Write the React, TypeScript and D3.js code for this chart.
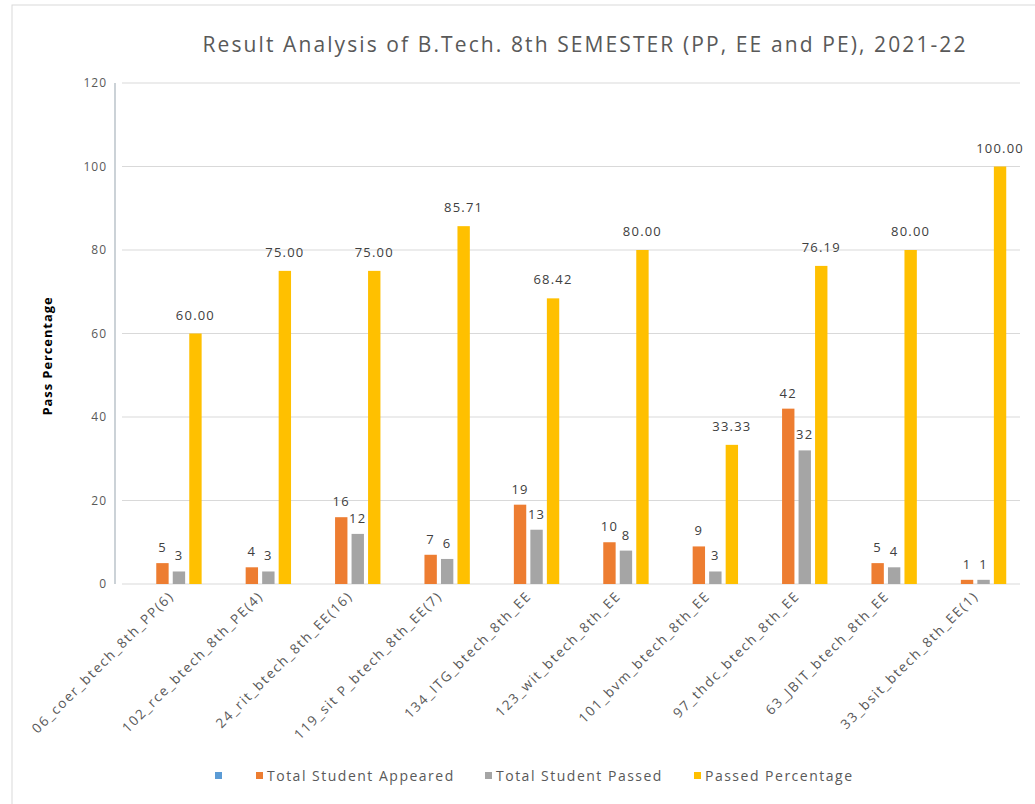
import React from "react";
import * as d3 from "d3";

const categories = [
  "06_coer_btech_8th_PP(6)",
  "102_rce_btech_8th_PE(4)",
  "24_rit_btech_8th_EE(16)",
  "119_sit P_btech_8th_EE(7)",
  "134_ITG_btech_8th_EE",
  "123_wit_btech_8th_EE",
  "101_bvm_btech_8th_EE",
  "97_thdc_btech_8th_EE",
  "63_JBIT_btech_8th_EE",
  "33_bsit_btech_8th_EE(1)",
];
const appeared = [5, 4, 16, 7, 19, 10, 9, 42, 5, 1];
const passed = [3, 3, 12, 6, 13, 8, 3, 32, 4, 1];
const percentage = [60.0, 75.0, 75.0, 85.71, 68.42, 80.0, 33.33, 76.19, 80.0, 100.0];
const yTicks = [0, 20, 40, 60, 80, 100, 120];
const seriesNames = ["", "Total Student Appeared", "Total Student Passed", "Passed Percentage"];
const seriesColors = ["#5B9BD5", "#ED7D31", "#A5A5A5", "#FFC000"];

const W = 1035;
const H = 804;
const font = "'Open Sans', 'Liberation Sans', sans-serif";
const textColor = "#595959";

export default function App() {
  const x = d3.scaleBand<string>().domain(categories).range([126, 1020]).paddingInner(0).paddingOuter(0);
  const y = d3.scaleLinear().domain([0, 120]).range([584, 83]);
  const inner = d3
    .scaleBand<string>()
    .domain(["s0", "s1", "s2", "s3"])
    .range([-33, 33])
    .paddingInner(0.25)
    .paddingOuter(0.125);

  const seriesData = [null, appeared, passed, percentage];

  return (
    <svg
      width={W}
      height={H}
      style={{ display: "block", fontFamily: font, position: "absolute", left: 0, top: 0 }}
    >
      <rect x={0} y={0} width={W} height={H} fill="#fff" />
      <rect x={12} y={5} width={W + 20} height={H + 20} fill="none" stroke="#d9d9d9" strokeWidth={1} />
      <text
        x={585}
        y={52}
        textAnchor="middle"
        fontSize={21}
        letterSpacing={2.1}
        fill={textColor}
      >
        Result Analysis of B.Tech. 8th SEMESTER (PP, EE and PE), 2021-22
      </text>

      {/* gridlines */}
      {yTicks.map((t) => (
        <line key={"g" + t} x1={122} x2={1020} y1={y(t)} y2={y(t)} stroke="#d9d9d9" strokeWidth={1} />
      ))}
      {/* axis line */}
      <line x1={115} x2={115} y1={y(120)} y2={y(0)} stroke="#a9b4bd" strokeWidth={1.2} />
      {yTicks.map((t) => (
        <text key={"t" + t} x={107} y={y(t) + 4} textAnchor="end" fontSize={12} letterSpacing={1} fill={textColor}>
          {t}
        </text>
      ))}
      <text
        transform={`translate(52,356) rotate(-90)`}
        textAnchor="middle"
        fontSize={13}
        letterSpacing={0.9}
        fontWeight="bold"
        fill="#000"
      >
        Pass Percentage
      </text>

      {/* bars */}
      {categories.map((c, i) => {
        const cx = (x(c) as number) + x.bandwidth() / 2;
        return (
          <g key={c}>
            {[1, 2, 3].map((s) => {
              const v = (seriesData[s] as number[])[i];
              const bx = cx + (inner("s" + s) as number);
              const bw = inner.bandwidth();
              const label = s === 3 ? v.toFixed(2) : String(v);
              return (
                <g key={s}>
                  <rect x={bx} y={y(v)} width={bw} height={y(0) - y(v)} fill={seriesColors[s]} />
                  <text
                    x={bx + bw / 2}
                    y={y(v) - (s === 3 ? 14 : 11)}
                    textAnchor="middle"
                    fontSize={13}
                    letterSpacing={1.2}
                    fill="#404040"
                  >
                    {label}
                  </text>
                </g>
              );
            })}
            <text
              transform={`translate(${cx + 4},597) rotate(-45)`}
              textAnchor="end"
              fontSize={13.5}
              letterSpacing={1.7}
              fill={textColor}
            >
              {c}
            </text>
          </g>
        );
      })}

      {/* legend */}
      {[
        { i: 0, x: 215, tx: 0 },
        { i: 1, x: 256, tx: 267 },
        { i: 2, x: 485, tx: 496 },
        { i: 3, x: 694, tx: 705 },
      ].map((l) => (
        <g key={"l" + l.i}>
          <rect x={l.x} y={772} width={7} height={7} fill={seriesColors[l.i]} />
          {seriesNames[l.i] && (
            <text x={l.tx} y={781} fontSize={14} letterSpacing={1.5} fill={textColor}>
              {seriesNames[l.i]}
            </text>
          )}
        </g>
      ))}
    </svg>
  );
}
